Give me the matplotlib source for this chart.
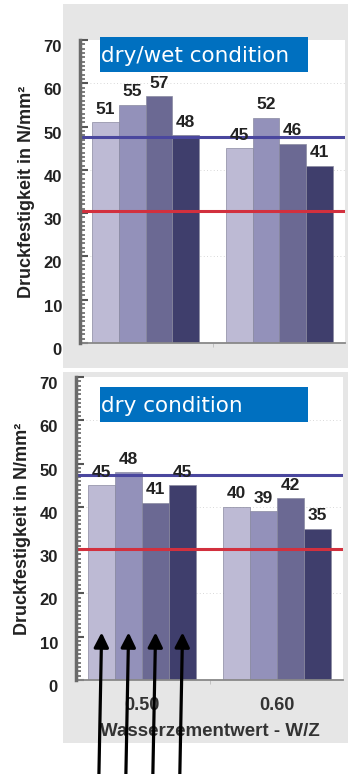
import matplotlib
matplotlib.use("Agg")
import matplotlib.pyplot as plt
from matplotlib.patches import Rectangle
from matplotlib.ticker import MultipleLocator
import numpy as np

# data
wz_labels = ["0.50", "0.60"]
drywet_values = [[51, 55, 57, 48], [45, 52, 46, 41]]
dry_values = [[45, 48, 41, 45], [40, 39, 42, 35]]
drywet_lines = [47.5, 30.6]
dry_lines = [47.3, 30.2]
bar_colors = ["#BDBAD4", "#9391BA", "#6B6993", "#3F3E6C"]
line_colors = ["#4A479E", "#D2303E"]

W, H = 348, 774
fig = plt.figure(figsize=(W / 100, H / 100), dpi=100)
fig.patch.set_facecolor("white")


def px_rect(x0, y0, x1, y1):
    # pixel box (top-left origin) -> figure fraction rect
    return [x0 / W, 1 - y1 / H, (x1 - x0) / W, (y1 - y0) / H]


def panel(values, lines, ax_box, bg_box, label_box, title, show_x):
    r = px_rect(*bg_box)
    fig.patches.append(Rectangle((r[0], r[1]), r[2], r[3], transform=fig.transFigure,
                                 facecolor="#E6E6E6", edgecolor="none", zorder=-5))
    ax = fig.add_axes(px_rect(*ax_box))
    ax.set_facecolor("white")
    n = len(bar_colors)
    width = 0.2
    x = np.arange(len(wz_labels))
    for i in range(n):
        xs = x + (i - (n - 1) / 2) * width
        vals = [v[i] for v in values]
        ax.bar(xs, vals, width, color=bar_colors[i], edgecolor="#8a8aa0", linewidth=0.5, zorder=2)
        for xx, v in zip(xs, vals):
            ax.annotate(str(v), (xx, v), xytext=(0, 4), textcoords="offset points",
                        ha="center", va="bottom", fontsize=12.5, fontweight="bold",
                        family="Liberation Sans", color="#222222", zorder=5)
    for yv, c in zip(lines, line_colors):
        ax.axhline(yv, color=c, lw=2.2, zorder=4)
    for g in [20, 40, 60]:
        ax.axhline(g, color="#cccccc", lw=0.6, ls=(0, (1, 3)), zorder=1)
    ax.set_ylim(0, 70)
    ax.set_xlim(-0.49, 1.49)
    ax.set_yticks(range(0, 71, 10))
    ax.yaxis.set_minor_locator(MultipleLocator(1))
    ax.tick_params(axis="y", which="major", direction="in", length=6, width=1.5,
                   color="#555555", pad=13, labelsize=12)
    ax.tick_params(axis="y", which="minor", direction="in", length=3.5, width=1.2, color="#666666")
    for lab in ax.get_yticklabels():
        lab.set_fontweight("bold")
        lab.set_family("Liberation Sans")
        lab.set_color("#222222")
        lab.set_va("top")
    for s in ["top", "right"]:
        ax.spines[s].set_visible(False)
    ax.spines["left"].set_color("#6a6a6a")
    ax.spines["left"].set_linewidth(2.5)
    ax.spines["left"].set_zorder(6)
    ax.spines["bottom"].set_color("#888888")
    ax.spines["bottom"].set_linewidth(1.3)
    ax.set_xticks([0.5], minor=True)
    ax.tick_params(axis="x", which="minor", direction="out", length=3, color="#bbbbbb")
    ax.set_ylabel("Druckfestigkeit in N/mm²", fontsize=13, fontweight="bold",
                  family="Liberation Sans", color="#222222")
    ax.yaxis.set_label_coords(-0.17, 0.5)
    if show_x:
        ax.set_xticks(x)
        ax.set_xticklabels(wz_labels, fontsize=13, fontweight="bold",
                           family="Liberation Sans", color="#333333")
        ax.tick_params(axis="x", which="major", length=0, pad=12)
        ax.set_xlabel("Wasserzementwert - W/Z", fontsize=13.5, fontweight="bold",
                      family="Liberation Sans", color="#333333", labelpad=7)
    else:
        ax.set_xticks([])
    r = px_rect(*label_box)
    fig.patches.append(Rectangle((r[0], r[1]), r[2], r[3], transform=fig.transFigure,
                                 facecolor="#0070C0", edgecolor="none", zorder=8))
    fig.text(r[0] + 1 / W, r[1] + r[3] / 2, title, color="white", fontsize=15.5,
             family="DejaVu Sans", ha="left", va="center_baseline", zorder=9)
    return ax


panel(drywet_values, drywet_lines, (80, 40, 345, 343), (63, 4, 348, 368),
      (100, 37, 308, 72), "dry/wet condition", False)
ax2 = panel(dry_values, dry_lines, (76, 377, 343, 680), (63, 372, 348, 743),
            (100, 387, 308, 422), "dry condition", True)

# arrows pointing at the four bars of the 0.50 group
for i in range(len(bar_colors)):
    bx = (i - 1.5) * 0.2
    ax2.annotate("", xy=(bx, 11), xycoords="data",
                 xytext=(bx - 0.02, 0.0), textcoords=("data", "figure fraction"),
                 arrowprops=dict(arrowstyle="-|>", lw=2.3, color="black", mutation_scale=22,
                                 shrinkA=0, shrinkB=0),
                 annotation_clip=False, zorder=10)

fig.savefig("out.png", dpi=100)
